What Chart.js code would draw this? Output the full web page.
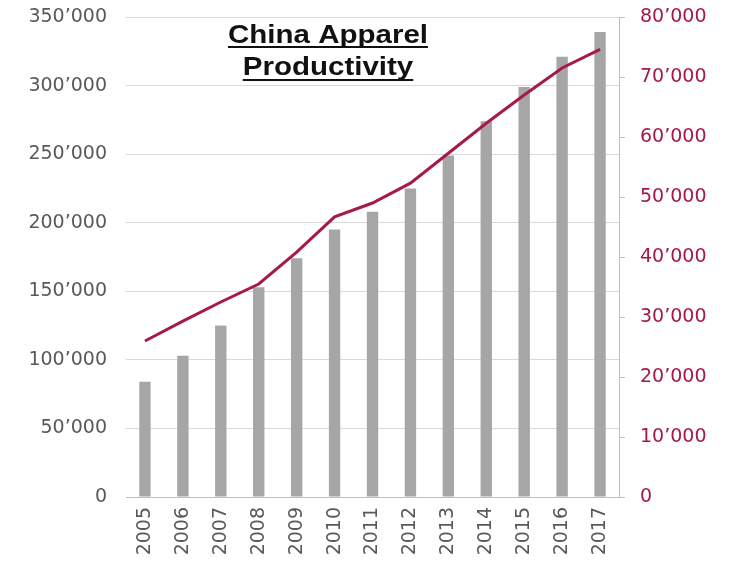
<!DOCTYPE html>
<html>
<head>
<meta charset="utf-8">
<script src="https://cdn.jsdelivr.net/npm/chart.js@4/dist/chart.umd.min.js"></script>
<style>
  html, body { margin: 0; padding: 0; background: #ffffff; }
  #wrap { width: 736px; height: 570px; }
</style>
</head>
<body>
<div id="wrap"><canvas id="chart" width="736" height="570"></canvas></div>
<script>
// Years on the category axis
const years = ['2005', '2006', '2007', '2008', '2009', '2010', '2011', '2012', '2013', '2014', '2015', '2016', '2017'];
// Bars (left axis)
const apparelOutput = [84000, 103000, 125000, 153000, 174000, 195000, 208000, 225000, 249000, 274000, 299000, 321000, 339000];
// Line (right axis)
const productivity = [26000, 29300, 32500, 35500, 40800, 46700, 49000, 52300, 57300, 62300, 67000, 71500, 74600];
// Axis ranges
const leftMax = 350000, leftStep = 50000;
const rightMax = 80000, rightStep = 10000;
const titleLines = ['China Apparel', 'Productivity'];

const fontFamily = '"DejaVu Sans", sans-serif';

function swissThousands(v) {
  return String(Math.round(v)).replace(/\B(?=(\d{3})+(?!\d))/g, '\u2019');
}

const titlePlugin = {
  id: 'underlinedTitle',
  afterDraw(chart) {
    const ctx = chart.ctx;
    const cx = 328;
    const baselines = [43, 75];
    const underlines = [47, 80];
    ctx.save();
    ctx.fillStyle = '#111111';
    ctx.strokeStyle = '#111111';
    ctx.font = 'bold 25px "Liberation Sans", Arial, sans-serif';
    ctx.textAlign = 'center';
    ctx.textBaseline = 'alphabetic';
    titleLines.forEach((line, i) => {
      const sx = 1.18;
      const w = ctx.measureText(line).width * sx;
      ctx.save();
      ctx.translate(cx, baselines[i]);
      ctx.scale(sx, 1);
      ctx.fillText(line, 0, 0);
      ctx.restore();
      ctx.lineWidth = 2;
      ctx.beginPath();
      ctx.moveTo(cx - w / 2, underlines[i]);
      ctx.lineTo(cx + w / 2, underlines[i]);
      ctx.stroke();
    });
    ctx.restore();
  }
};

// Keep the value axes from reserving extra room for their end labels
function fitVertical(width) {
  return (scale) => {
    scale.width = width;
    scale.paddingTop = 0;
    scale.paddingBottom = 0;
  };
}

new Chart(document.getElementById('chart'), {
  data: {
    labels: years,
    datasets: [
      {
        type: 'line',
        data: productivity,
        yAxisID: 'y1',
        borderColor: '#a5194b',
        borderWidth: 3,
        pointRadius: 0,
        tension: 0,
        fill: false,
        order: 0
      },
      {
        type: 'bar',
        data: apparelOutput,
        yAxisID: 'y',
        backgroundColor: '#a6a6a6',
        barPercentage: 0.3,
        categoryPercentage: 1,
        order: 1
      }
    ]
  },
  options: {
    responsive: false,
    animation: false,
    layout: { padding: { top: 17, left: 0, right: 0, bottom: 0 } },
    plugins: {
      legend: { display: false },
      tooltip: { enabled: false },
      title: { display: false }
    },
    scales: {
      x: {
        offset: true,
        grid: { display: false, drawTicks: false },
        border: { display: true, color: '#bfbfbf', width: 1 },
        ticks: {
          minRotation: 90,
          maxRotation: 90,
          padding: 10,
          color: '#595959',
          font: { family: fontFamily, size: 19 }
        },
        afterFit(scale) {
          scale.height = 73;
          scale.paddingLeft = 0;
          scale.paddingRight = 0;
        }
      },
      y: {
        position: 'left',
        min: 0,
        max: leftMax,
        grid: { color: '#d9d9d9', drawTicks: false },
        border: { display: false },
        ticks: {
          stepSize: leftStep,
          padding: 19,
          color: '#595959',
          font: { family: fontFamily, size: 19 },
          callback: (v) => swissThousands(v)
        },
        afterFit: fitVertical(126)
      },
      y1: {
        position: 'right',
        min: 0,
        max: rightMax,
        grid: { drawOnChartArea: false, color: '#bfbfbf', tickLength: 6 },
        border: { display: true, color: '#bfbfbf', width: 1 },
        ticks: {
          stepSize: rightStep,
          padding: 15,
          color: '#a6184a',
          font: { family: fontFamily, size: 19 },
          callback: (v) => swissThousands(v)
        },
        afterFit: fitVertical(117)
      }
    }
  },
  plugins: [titlePlugin]
});
</script>
</body>
</html>
